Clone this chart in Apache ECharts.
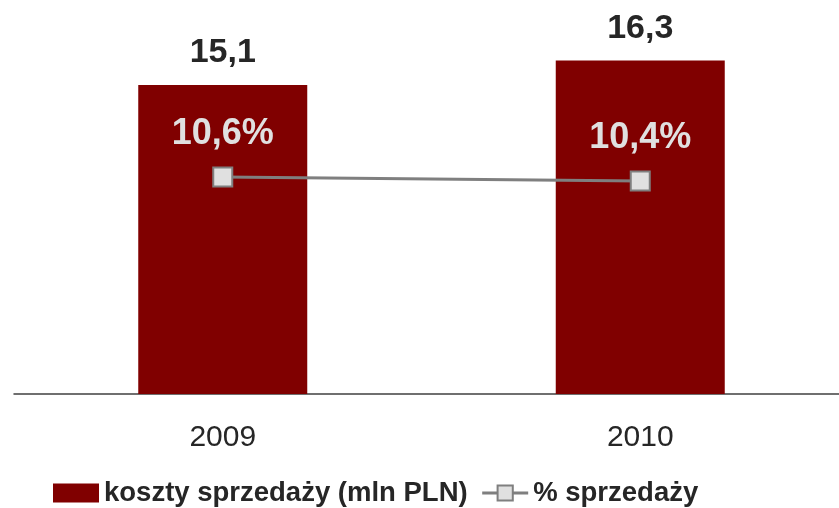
<!DOCTYPE html>
<html>
<head>
<meta charset="utf-8">
<script src="https://cdn.jsdelivr.net/npm/echarts@6/dist/echarts.min.js"></script>
<style>
  html, body { margin: 0; padding: 0; background: #fff; }
  #chart { width: 839px; height: 508px; }
</style>
</head>
<body>
<div id="chart"></div>
<script>
  // dane
  const years = ['2009', '2010'];
  const costs = [15.1, 16.3];        // koszty sprzedaży (mln PLN)
  const shares = [10.6, 10.4];       // % sprzedaży

  const COLORS = {
    bar: '#800000',
    text: '#262626',
    inner: '#e0e0e0',
    line: '#7f7f7f',
  };
  const FONT = "'Liberation Sans', Arial, sans-serif";

  // 15.1 -> "15,1"
  function pl(v) {
    return String(v.toFixed(1)).replace('.', ',');
  }

  const chart = echarts.init(document.getElementById('chart'));
  chart.setOption({
    backgroundColor: '#fff',
    animation: false,
    textStyle: { fontFamily: FONT, color: COLORS.text },
    grid: { left: 14, right: -10, top: 0, bottom: 114, outerBoundsMode: 'none', containLabel: false },
    legend: {
      left: 53,
      top: 479,
      padding: 0,
      itemWidth: 46,
      itemHeight: 19,
      itemGap: 13,
      lineStyle: { width: 3 },
      textStyle: { fontFamily: FONT, fontSize: 27.5, fontWeight: 'bold', color: COLORS.text },
      data: [
        { name: 'koszty sprzedaży (mln PLN)', icon: 'rect' },
        { name: '% sprzedaży' },
      ],
    },
    xAxis: {
      type: 'category',
      data: years,
      axisLine: { lineStyle: { color: '#404040', width: 1.5 } },
      axisTick: { show: false },
      axisLabel: { color: COLORS.text, fontSize: 30, fontFamily: FONT, margin: 29 },
    },
    yAxis: [
      { type: 'value', min: 0, max: 19.25, show: false, splitLine: { show: false } },
      { type: 'value', min: -0.25, max: 19.45, show: false, splitLine: { show: false } },
    ],
    series: [
      {
        name: 'koszty sprzedaży (mln PLN)',
        type: 'bar',
        data: costs,
        barWidth: 169,
        itemStyle: { color: COLORS.bar },
        label: {
          show: true,
          position: 'top',
          distance: 15,
          color: COLORS.text,
          fontSize: 34,
          fontWeight: 'bold',
          fontFamily: FONT,
          formatter: (p) => pl(p.value),
        },
      },
      {
        name: '% sprzedaży',
        type: 'line',
        yAxisIndex: 1,
        data: shares,
        symbol: 'rect',
        symbolSize: 19,
        lineStyle: { color: COLORS.line, width: 3 },
        itemStyle: { color: COLORS.inner, borderColor: COLORS.line, borderWidth: 2 },
        label: {
          show: true,
          position: 'top',
          distance: 14,
          color: COLORS.inner,
          fontSize: 36,
          fontWeight: 'bold',
          fontFamily: FONT,
          formatter: (p) => pl(p.value) + '%',
        },
      },
    ],
  });
</script>
</body>
</html>
